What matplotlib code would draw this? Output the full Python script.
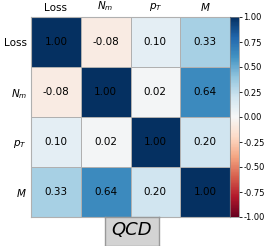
import numpy as np
import matplotlib
matplotlib.use('Agg')
import matplotlib.pyplot as plt

# ---------------- data ----------------
labels = ['Loss', '$N_m$', '$p_T$', '$M$']
corr = np.array([
    [1.00, -0.08, 0.10, 0.33],
    [-0.08, 1.00, 0.02, 0.64],
    [0.10, 0.02, 1.00, 0.20],
    [0.33, 0.64, 0.20, 1.00],
])
cbar_ticks = [1.00, 0.75, 0.50, 0.25, 0.00, -0.25, -0.50, -0.75, -1.00]
title = 'QCD'

# ---------------- figure ----------------
W, H = 270, 246
fig = plt.figure(figsize=(W / 100, H / 100), dpi=100)

# heatmap axes (pixel box converted to figure fractions)
x0, x1, y0, y1 = 31, 230, 17, 217
ax = fig.add_axes([x0 / W, 1 - y1 / H, (x1 - x0) / W, (y1 - y0) / H])
mesh = ax.pcolormesh(corr, cmap='RdBu', vmin=-1, vmax=1,
                     edgecolors='#b0b0b0', linewidth=0.7)
ax.set_xlim(0, 4)
ax.set_ylim(4, 0)
for i in range(4):
    for j in range(4):
        ax.text(j + 0.5, i + 0.5, f'{corr[i, j]:.2f}', ha='center', va='center',
                fontsize=7.5, color='black')

ax.xaxis.tick_top()
ax.set_xticks(np.arange(4) + 0.5)
ax.set_yticks(np.arange(4) + 0.5)
ax.set_xticklabels(labels, fontsize=7.5)
ax.set_yticklabels(labels, fontsize=7.5)
ax.tick_params(length=0, pad=3)
for s in ax.spines.values():
    s.set_color('#b0b0b0')
    s.set_linewidth(0.8)

# colorbar
cax = fig.add_axes([x1 / W, 1 - y1 / H, 9 / W, (y1 - y0) / H])
cb = fig.colorbar(mesh, cax=cax)
cb.set_ticks(cbar_ticks)
cb.set_ticklabels([f'{t:.2f}' for t in cbar_ticks])
cb.ax.tick_params(labelsize=6, length=2, width=0.6, pad=1)
cb.outline.set_linewidth(0.5)
cb.outline.set_edgecolor('#888888')

# label box under the heatmap
bx0, bx1 = 105, 159
bax = fig.add_axes([bx0 / W, 0, (bx1 - bx0) / W, (H - y1) / H])
bax.set_xticks([])
bax.set_yticks([])
bax.set_facecolor('#d3d3d3')
for s in bax.spines.values():
    s.set_color('#999999')
    s.set_linewidth(1.0)
bax.text(0.5, 0.55, title, ha='center', va='center', fontsize=13,
         style='italic', transform=bax.transAxes)

fig.savefig('out.png', dpi=100)
